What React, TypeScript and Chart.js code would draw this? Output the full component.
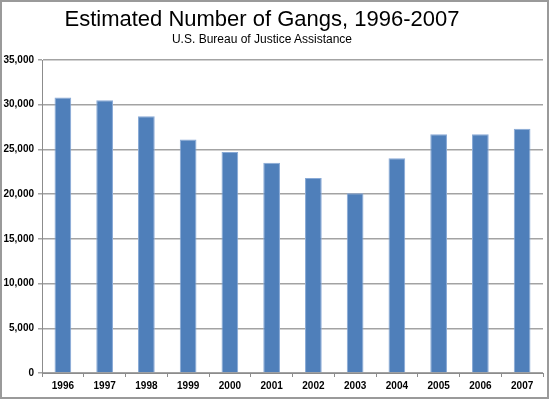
import React, { useEffect, useRef } from "react";
import { Chart, registerables } from "chart.js";

Chart.register(...registerables);

const years = ["1996", "1997", "1998", "1999", "2000", "2001", "2002", "2003", "2004", "2005", "2006", "2007"];
const gangs = [30800, 30500, 28700, 26100, 24700, 23500, 21800, 20100, 24000, 26700, 26700, 27300];
const titleText = "Estimated Number of Gangs, 1996-2007";
const subtitleText = "U.S. Bureau of Justice Assistance";

const FONT = "'Liberation Sans', Arial, sans-serif";

export default function App() {
  const ref = useRef<HTMLCanvasElement | null>(null);

  useEffect(() => {
    document.body.style.margin = "0";
    const canvas = ref.current;
    if (!canvas) return;
    const chart = new Chart(canvas, {
      type: "bar",
      data: {
        labels: years,
        datasets: [
          {
            data: gangs,
            backgroundColor: "#4f7fba",
            borderColor: "#88a9d6",
            borderWidth: 1,
            barPercentage: 0.4,
            categoryPercentage: 1,
          },
        ],
      },
      options: {
        animation: false,
        responsive: false,
        maintainAspectRatio: false,
        layout: { padding: { left: 0, right: 4, top: 58, bottom: 4 } },
        plugins: { legend: { display: false }, title: { display: false }, tooltip: { enabled: false } },
        scales: {
          x: {
            offset: true,
            grid: {
              display: true,
              offset: true,
              drawOnChartArea: false,
              drawTicks: true,
              tickLength: 4,
              color: "#8c8c8c",
            },
            border: { display: true, color: "#8c8c8c", width: 1 },
            ticks: {
              color: "#000",
              padding: 3,
              font: { family: FONT, size: 10, weight: "bold" },
              maxRotation: 0,
            },
            afterFit: (s: any) => {
              s.height = 20;
            },
          },
          y: {
            min: 0,
            max: 35000,
            ticks: {
              stepSize: 5000,
              color: "#000",
              padding: 4,
              font: { family: FONT, size: 10, weight: "bold" },
              callback: (v: any) => Number(v).toLocaleString("en-US"),
            },
            grid: {
              color: "#a3a3a3",
              lineWidth: 1.5,
              drawTicks: true,
              tickLength: 4,
            },
            border: { display: true, color: "#8c8c8c", width: 1 },
            afterFit: (s: any) => {
              s.width = 40;
            },
          },
        },
      },
    });
    return () => chart.destroy();
  }, []);

  return (
    <div
      style={{
        position: "relative",
        width: 549,
        height: 399,
        boxSizing: "border-box",
        border: "2px solid #9a9a9a",
        background: "#fff",
        fontFamily: FONT,
      }}
    >
      <canvas ref={ref} width={545} height={395} style={{ display: "block", width: 545, height: 395 }} />
      <div
        style={{
          position: "absolute",
          left: 0,
          top: 4,
          width: 520,
          textAlign: "center",
          fontSize: 22,
          color: "#000",
          whiteSpace: "nowrap",
        }}
      >
        {titleText}
      </div>
      <div
        style={{
          position: "absolute",
          left: 0,
          top: 30,
          width: 520,
          textAlign: "center",
          fontSize: 12,
          color: "#000",
          whiteSpace: "nowrap",
        }}
      >
        {subtitleText}
      </div>
    </div>
  );
}
